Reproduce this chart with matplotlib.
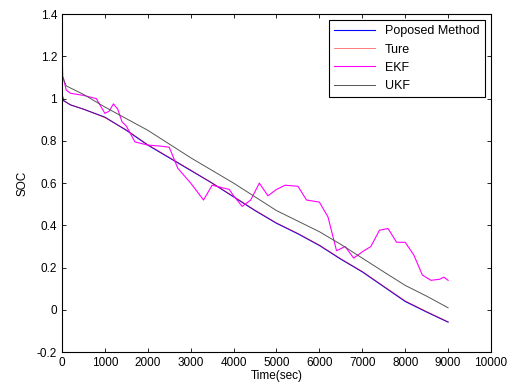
import numpy as np
import matplotlib.pyplot as plt

plt.rcParams['font.family'] = ['Liberation Sans', 'DejaVu Sans']

# time points (sec) and SOC values
t_prop = [0, 15, 40, 80, 200, 500, 1000, 1500, 2000, 2500, 3000, 3500, 4000, 4500,
          5000, 5500, 6000, 6500, 7000, 7500, 8000, 8500, 9000]
soc_prop = [0.85, 1.01, 0.99, 0.985, 0.97, 0.95, 0.912, 0.85, 0.78, 0.72, 0.66, 0.6, 0.535, 0.47,
            0.41, 0.36, 0.305, 0.24, 0.18, 0.11, 0.04, -0.01, -0.058]

t_true = [0, 40, 80, 200, 500, 1000, 1500, 2000, 2500, 3000, 3500, 4000, 4500,
          5000, 5500, 6000, 6500, 7000, 7500, 8000, 8500, 9000]
soc_true = [1.0, 0.99, 0.985, 0.97, 0.95, 0.91, 0.852, 0.782, 0.722, 0.662, 0.6, 0.537, 0.472,
            0.412, 0.362, 0.307, 0.242, 0.182, 0.112, 0.043, -0.008, -0.056]

t_ekf = [0, 30, 100, 200, 500, 800, 1000, 1100, 1200, 1300, 1400, 1500, 1700, 2000,
         2300, 2500, 2700, 3000, 3300, 3500, 3700, 3900, 4000, 4200, 4400, 4600, 4800,
         5000, 5200, 5500, 5700, 6000, 6200, 6400, 6600, 6800, 7000, 7200, 7400, 7600,
         7800, 8000, 8200, 8400, 8600, 8800, 8900, 9000]
soc_ekf = [1.08, 1.1, 1.04, 1.025, 1.015, 1.0, 0.93, 0.94, 0.975, 0.95, 0.89, 0.87, 0.795, 0.78,
           0.775, 0.77, 0.67, 0.6, 0.52, 0.59, 0.58, 0.57, 0.54, 0.49, 0.52, 0.6, 0.54,
           0.57, 0.59, 0.585, 0.52, 0.51, 0.44, 0.28, 0.3, 0.245, 0.275, 0.3, 0.377, 0.385,
           0.32, 0.32, 0.26, 0.165, 0.14, 0.145, 0.155, 0.14]

t_ukf = [0, 20, 100, 500, 1000, 1500, 2000, 2500, 3000, 3500, 4000, 4500,
         5000, 5500, 6000, 6500, 7000, 7500, 8000, 8500, 9000]
soc_ukf = [1.25, 1.1, 1.06, 1.02, 0.96, 0.905, 0.85, 0.785, 0.72, 0.66, 0.6, 0.535,
           0.47, 0.42, 0.37, 0.31, 0.245, 0.18, 0.116, 0.065, 0.01]

fig = plt.figure(figsize=(5.12, 3.9), dpi=100)
ax = fig.add_axes([0.121, 0.097, 0.838, 0.867])

ax.plot(t_prop, soc_prop, color='#0000ff', lw=0.8, label='Poposed Method')
ax.plot(t_true, soc_true, color='#ff0000', lw=0.6, alpha=0.6, label='Ture')
ax.plot(t_ekf, soc_ekf, color='#ff00ff', lw=0.8, label='EKF')
ax.plot(t_ukf, soc_ukf, color='#555555', lw=0.7, label='UKF')

ax.set_xlim(0, 10000)
ax.set_ylim(-0.2, 1.4)
ax.set_xticks(np.arange(0, 10001, 1000))
ax.set_yticks(np.arange(-0.2, 1.41, 0.2))
ax.set_yticklabels(['-0.2', '0', '0.2', '0.4', '0.6', '0.8', '1', '1.2', '1.4'])
ax.tick_params(direction='in', top=True, right=True, labelsize=8.5, length=3, width=0.6)
for s in ax.spines.values():
    s.set_linewidth(0.8)

ax.set_xlabel('Time(sec)', fontsize=8.5, labelpad=1)
ax.set_ylabel('SOC', fontsize=8.5, labelpad=6)

leg = ax.legend(loc='upper right', fontsize=9, fancybox=False, framealpha=1,
                edgecolor='black', borderaxespad=0.5, handlelength=3.3,
                labelspacing=0.5, borderpad=0.4)
leg.get_frame().set_linewidth(0.8)

fig.savefig('out.png', dpi=100)
